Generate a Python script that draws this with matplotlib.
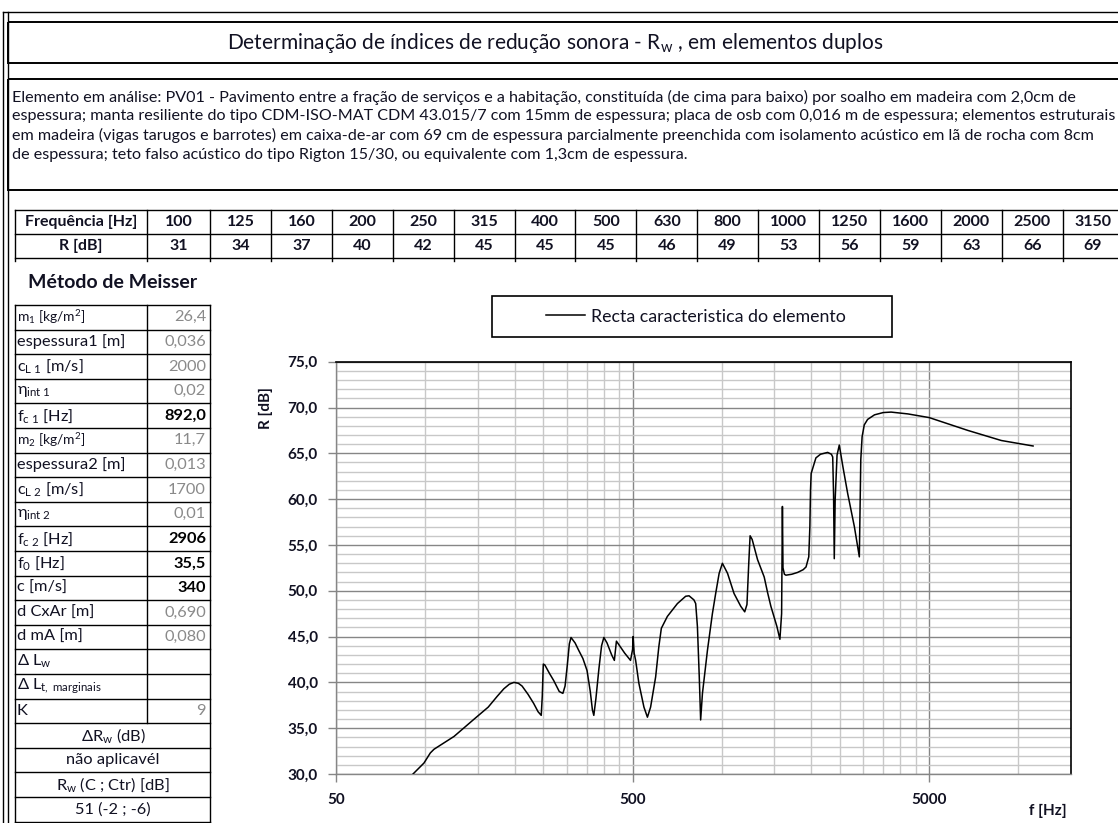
import matplotlib.pyplot as plt
from matplotlib.patches import Rectangle
from matplotlib.ticker import FixedLocator, FuncFormatter, NullFormatter

plt.rcParams['font.family'] = ['Lato', 'DejaVu Sans']
plt.rcParams['mathtext.fontset'] = 'custom'
plt.rcParams['mathtext.rm'] = 'Lato'
plt.rcParams['mathtext.it'] = 'Lato:italic'
plt.rcParams['mathtext.bf'] = 'Lato:bold'

# textos
titulo = r"Determinação de índices de redução sonora - R$_\mathrm{w}$ , em elementos duplos"
descricao = [
    "Elemento em análise: PV01 - Pavimento entre a fração de serviços e a habitação, constituída (de cima para baixo) por soalho em madeira com 2,0cm de",
    "espessura; manta resiliente do tipo CDM-ISO-MAT CDM 43.015/7 com 15mm de espessura; placa de osb com 0,016 m de espessura; elementos estruturais",
    "em madeira (vigas tarugos e barrotes) em caixa-de-ar com 69 cm de espessura parcialmente preenchida com isolamento acústico em lã de rocha com 8cm",
    "de espessura; teto falso acústico do tipo Rigton 15/30, ou equivalente com 1,3cm de espessura.",
]

# tabela de frequencias
freq_bandas = ['100', '125', '160', '200', '250', '315', '400', '500', '630', '800',
               '1000', '1250', '1600', '2000', '2500', '3150']
r_bandas = [31, 34, 37, 40, 42, 45, 45, 45, 46, 49, 53, 56, 59, 63, 66, 69]

# parametros do metodo de Meisser
param_labels = [r'm$_\mathrm{1}$ [kg/m$^\mathrm{2}$]', 'espessura1 [m]', r'c$_\mathrm{L\ 1}$ [m/s]',
                r'η$_\mathrm{int\ 1}$', r'f$_\mathrm{c\ 1}$ [Hz]', r'm$_\mathrm{2}$ [kg/m$^\mathrm{2}$]',
                'espessura2 [m]', r'c$_\mathrm{L\ 2}$ [m/s]', r'η$_\mathrm{int\ 2}$', r'f$_\mathrm{c\ 2}$ [Hz]',
                r'f$_\mathrm{0}$ [Hz]', 'c [m/s]', 'd CxAr [m]', 'd mA [m]', r'Δ L$_\mathrm{w}$',
                r'Δ L$_\mathrm{t,\ marginais}$', 'K']
param_values = ['26,4', '0,036', '2000', '0,02', '892,0', '11,7', '0,013', '1700', '0,01', '2906',
                '35,5', '340', '0,690', '0,080', '', '', '9']
param_calc = [False, False, False, False, True, False, False, False, False, True,
              True, True, False, False, False, False, False]
rodape = [r'ΔR$_\mathrm{w}$ (dB)', 'não aplicavél', r'R$_\mathrm{w}$ (C ; Ctr) [dB]', '51 (-2 ; -6)']

# curva caracteristica
f_curva = [89, 99, 104, 107, 125, 145, 163, 175, 184, 192, 199, 206, 212, 222, 232, 240, 246,
           248, 250, 253, 262, 271, 283, 291, 296, 301, 306, 310, 320, 329, 340, 351, 360, 366,
           370, 376, 385, 393, 400, 410, 425, 434, 441, 452, 470, 492, 500, 502, 506, 512,
           525, 546, 561, 575, 598, 613, 625, 655, 708, 755, 775, 805, 816, 827, 839, 848,
           860, 894, 929, 953, 979, 1004, 1045, 1099, 1158, 1194, 1215, 1232, 1245, 1265,
           1319, 1389, 1426, 1463, 1533, 1569, 1590, 1600, 1607, 1625, 1644, 1720, 1800,
           1880, 1922, 1963, 1980, 1990, 2000, 2075, 2150, 2273, 2340, 2364, 2380, 2393,
           2410, 2445, 2488, 2560, 2656, 2797, 2870, 2907, 2922, 2940, 2970, 3020, 3100,
           3270, 3500, 3720, 4240, 5000, 6750, 8750, 11200]
r_curva = [29.7, 31.2, 32.3, 32.7, 34.1, 35.9, 37.3, 38.5, 39.3, 39.8, 40.0, 39.9, 39.6, 38.7,
           37.7, 36.8, 36.4, 38.5, 42.0, 41.9, 41.0, 40.2, 39.0, 38.8, 39.6, 41.8, 44.2, 44.9,
           44.3, 43.5, 42.6, 41.3, 39.0, 37.0, 36.4, 38.2, 41.5, 44.0, 44.9, 44.3, 43.0, 42.4,
           44.5, 44.0, 43.2, 42.4, 43.6, 45.0, 43.2, 42.4, 39.9, 37.3, 36.2, 37.3, 40.6, 43.9,
           45.9, 47.2, 48.6, 49.4, 49.45, 49.0, 48.6, 46.1, 40.6, 35.9, 38.8, 43.5, 47.5, 49.7,
           51.9, 53.0, 51.9, 49.7, 48.3, 47.7, 48.5, 53.0, 56.0, 55.6, 53.4, 51.5, 49.8, 48.3,
           46.1, 44.7, 47.5, 59.2, 52.5, 51.8, 51.7, 51.8, 52.0, 52.3, 52.6, 53.7, 57.0, 61.0,
           62.8, 64.5, 64.9, 65.1, 64.9, 64.6, 60.5, 53.5, 60.0, 64.8, 65.9, 63.5, 60.6, 57.0,
           54.8, 53.7, 58.5, 64.3, 66.8, 68.1, 68.7, 69.2, 69.45, 69.5, 69.3, 68.9, 67.5, 66.4,
           65.8]

W, H = 1118, 823
fig = plt.figure(figsize=(W / 100, H / 100), dpi=100)

# camada de fundo em coordenadas de pixel para as tabelas
ov = fig.add_axes([0, 0, 1, 1])
ov.set_xlim(0, W)
ov.set_ylim(H, 0)
ov.axis('off')

lw = 1.0
txt_cor = '#111122'
# moldura exterior
ov.plot([3, 3], [12, H], color='black', lw=lw)
ov.plot([8, 8], [12, H], color='black', lw=lw)
ov.plot([3, W], [12, 12], color='black', lw=lw)

# caixa do titulo
ov.add_patch(Rectangle((8, 22), W, 41, fill=False, ec='black', lw=1.4))
ov.text(555, 43, titulo, ha='center', va='center', fontsize=15, color=txt_cor)

# caixa da descricao
ov.add_patch(Rectangle((8, 79), W, 111, fill=False, ec='black', lw=1.4))
for i, linha in enumerate(descricao):
    ov.text(12, 97 + i * 19.3, linha, ha='left', va='center', fontsize=11.6, color=txt_cor)

# tabela de frequencias
col_x = [15, 147] + [210 + i * 60.9 for i in range(16)]
ty = [210, 234, 258]
for y in ty:
    ov.plot([15, W], [y, y], color='black', lw=lw)
for x in col_x:
    ov.plot([x, x], [ty[0], ty[2] + 3], color='black', lw=lw)
fs_tab = 11.5
ov.text(81, 222, 'Frequência [Hz]', ha='center', va='center', fontsize=fs_tab, fontweight='bold', color=txt_cor)
ov.text(81, 246, 'R [dB]', ha='center', va='center', fontsize=fs_tab, fontweight='bold', color=txt_cor)
for i, (fb, rb) in enumerate(zip(freq_bandas, r_bandas)):
    xc = col_x[i + 1] + 30.45 if i > 0 else (147 + 210) / 2
    ov.text(xc, 222, fb, ha='center', va='center', fontsize=fs_tab, fontweight='bold', color=txt_cor)
    ov.text(xc, 246, str(rb), ha='center', va='center', fontsize=fs_tab, fontweight='bold', color=txt_cor)

# metodo de Meisser
ov.text(113, 283, 'Método de Meisser', ha='center', va='center', fontsize=14, fontweight='bold', color=txt_cor)
y0, rh = 305, 24.6
n = len(param_labels)
for i in range(n + len(rodape) + 1):
    ov.plot([15, 210], [y0 + i * rh, y0 + i * rh], color='black', lw=lw)
ov.plot([15, 15], [y0, y0 + (n + len(rodape)) * rh], color='black', lw=lw)
ov.plot([210, 210], [y0, y0 + (n + len(rodape)) * rh], color='black', lw=lw)
ov.plot([147, 147], [y0, y0 + n * rh], color='black', lw=lw)
fs_par = 11.8
for i, (lab, val, calc) in enumerate(zip(param_labels, param_values, param_calc)):
    yc = y0 + (i + 0.5) * rh
    fs = 10 if lab.startswith('m$') else fs_par
    ov.text(17, yc, lab, ha='left', va='center', fontsize=fs, color=txt_cor)
    if calc:
        ov.text(206, yc, val, ha='right', va='center', fontsize=fs_par, fontweight='bold', color='black')
    else:
        ov.text(206, yc, val, ha='right', va='center', fontsize=fs_par, color='#8a8a8a')
for j, txt in enumerate(rodape):
    ov.text(113, y0 + (n + j + 0.5) * rh, txt, ha='center', va='center', fontsize=fs_par, color=txt_cor)

# grafico
ax = fig.add_axes([336 / W, 1 - 774 / H, (1070.7 - 336) / W, (774 - 361.7) / H])
ax.plot(f_curva, r_curva, color='black', lw=1.1, label='Recta caracteristica do elemento', zorder=3)
ax.set_xscale('log')
ax.set_xlim(50, 15000)
ax.set_ylim(30, 75)

ax.xaxis.set_major_locator(FixedLocator([50, 500, 5000]))
ax.xaxis.set_major_formatter(FuncFormatter(lambda v, p: f'{v:.0f}'))
minors_x = list(range(100, 500, 50)) + list(range(1000, 5000, 500)) + [10000]
ax.xaxis.set_minor_locator(FixedLocator(minors_x))
ax.xaxis.set_minor_formatter(NullFormatter())
ax.yaxis.set_major_locator(FixedLocator(list(range(30, 76, 5))))
ax.yaxis.set_major_formatter(FuncFormatter(lambda v, p: f'{v:.1f}'.replace('.', ',')))
ax.yaxis.set_minor_locator(FixedLocator([v for v in range(30, 76) if v % 5]))

ax.grid(which='major', color='#868686', lw=1.0)
ax.grid(which='minor', color='#c8c8c8', lw=1.0)
ax.set_axisbelow(True)
ax.tick_params(which='major', direction='out', length=6, color='#868686', width=1.0)
ax.tick_params(which='minor', length=0)
ax.tick_params(axis='y', pad=7, labelsize=11, labelcolor=txt_cor)
ax.tick_params(axis='x', pad=8, labelsize=11, labelcolor=txt_cor)
for lab in ax.get_xticklabels() + ax.get_yticklabels():
    lab.set_fontweight('bold')

for s in ['top', 'right']:
    ax.spines[s].set_color('black')
    ax.spines[s].set_linewidth(1.2)
for s in ['left', 'bottom']:
    ax.spines[s].set_color('#868686')
    ax.spines[s].set_linewidth(1.0)

ax.set_ylabel('R [dB]', fontsize=11, fontweight='bold', color=txt_cor)
ax.yaxis.set_label_coords(-0.086, 0.888)
ax.set_xlabel('f [Hz]', fontsize=11, fontweight='bold', color=txt_cor)
ax.xaxis.set_label_coords(0.969, -0.072)

# legenda
ov.add_patch(Rectangle((492, 296), 400, 41, fill=False, ec='black', lw=1.2))
leg = fig.legend(loc='center', bbox_to_anchor=(696 / W, 1 - 316.5 / H), frameon=False,
                 fontsize=12.8, handlelength=2.2, handletextpad=0.3)
for t in leg.get_texts():
    t.set_color(txt_cor)

fig.savefig('out.png', dpi=100)
